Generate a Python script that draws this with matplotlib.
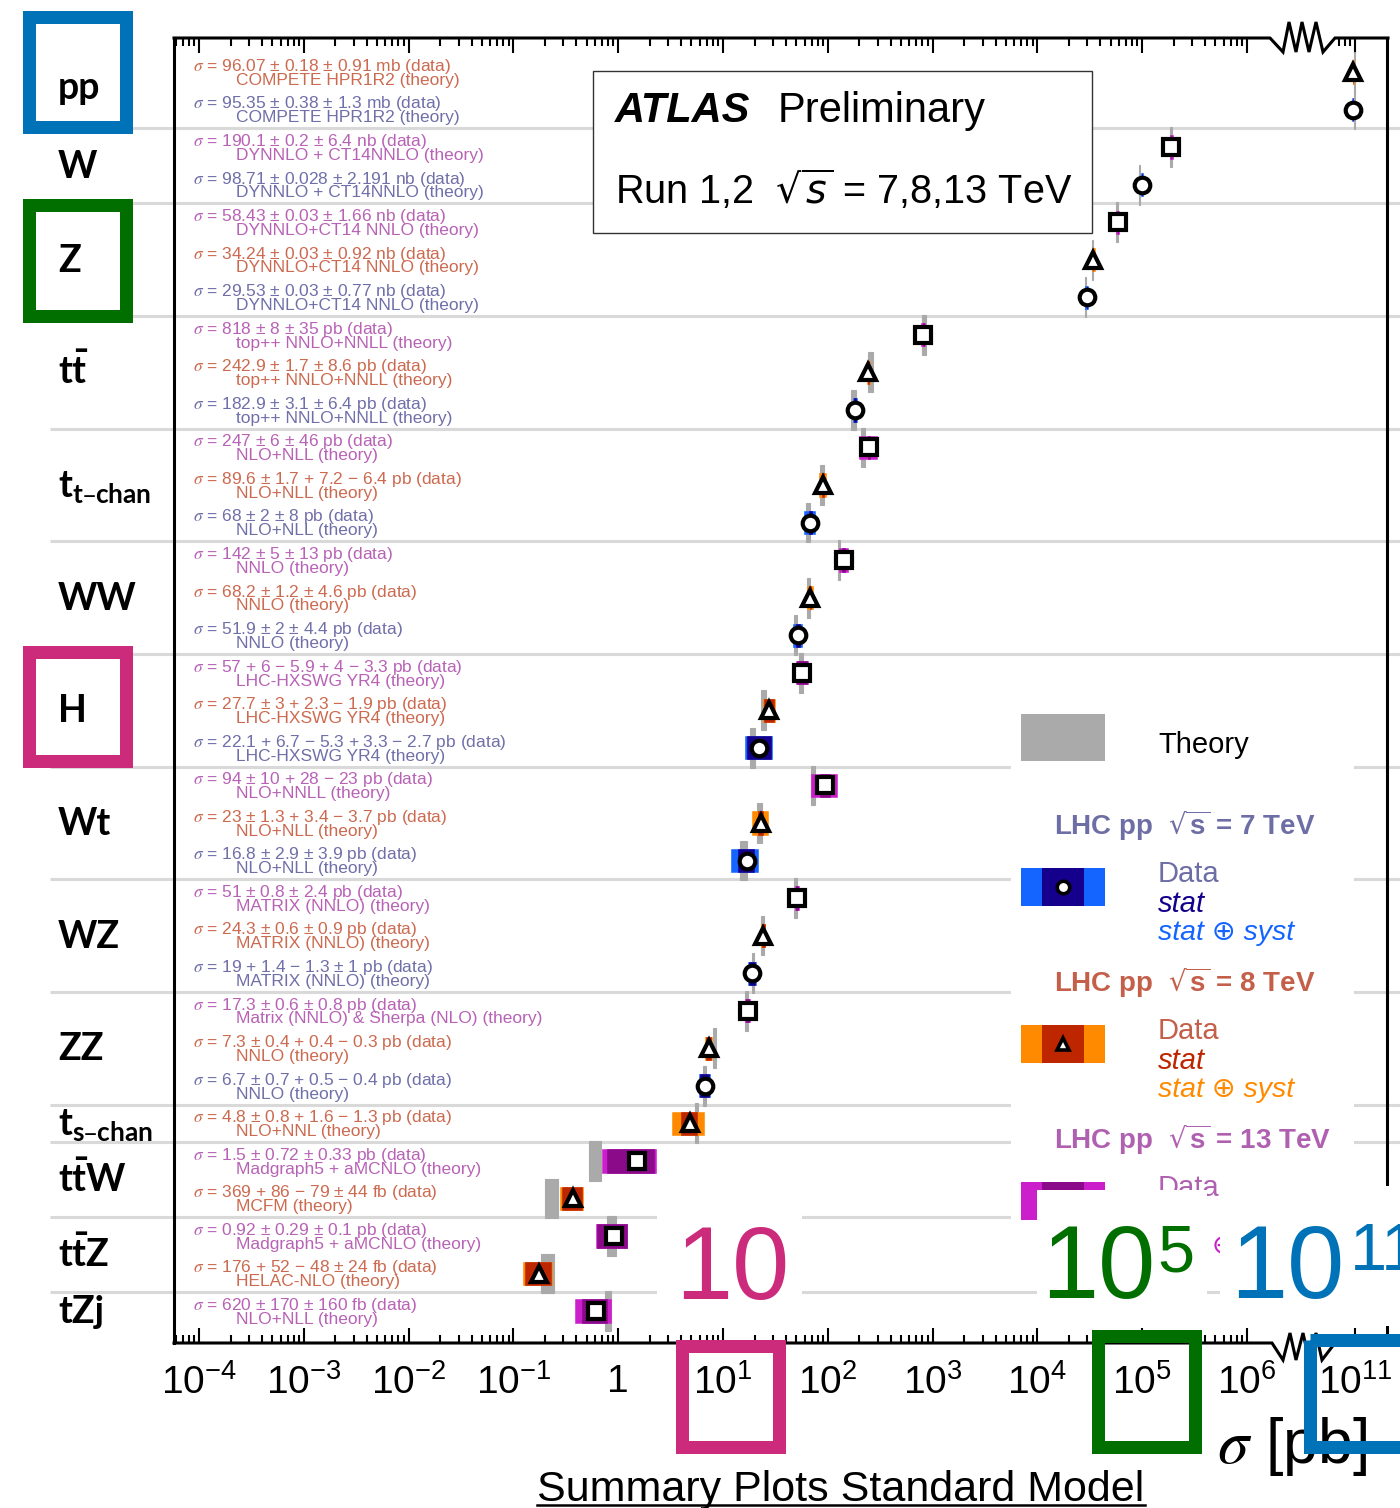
import numpy as np
import matplotlib
matplotlib.use("Agg")
import matplotlib.pyplot as plt
from matplotlib import font_manager, transforms
from matplotlib.patches import Rectangle
from matplotlib.lines import Line2D
from matplotlib.ticker import FixedLocator, FixedFormatter, NullFormatter


def first_font(names):
    for name in names:
        try:
            font_manager.findfont(font_manager.FontProperties(family=name),
                                  fallback_to_default=False)
            return name
        except Exception:
            continue
    return "DejaVu Sans"


SANS = first_font(["Liberation Sans", "Arial", "DejaVu Sans"])
NARROW = first_font(["Liberation Sans Narrow", "DejaVu Sans Condensed", SANS])
LABEL = first_font(["Lato", "Open Sans", "DejaVu Sans"])

# ------------------------------------------------------------------ data
groups = ["pp", "W", "Z", r"$\mathregular{t\bar{t}}$", "$\\mathregular{t_{t\u2013chan}}$",
          "WW", "H", "Wt", "WZ", "ZZ", "$\\mathregular{t_{s\u2013chan}}$",
          r"$\mathregular{t\bar{t}W}$", r"$\mathregular{t\bar{t}Z}$", "tZj"]
group_sizes = [2, 2, 3, 3, 3, 3, 3, 3, 3, 3, 1, 2, 2, 1]

energy = [8, 7, 13, 7, 13, 8, 7, 13, 8, 7, 13, 8, 7, 13, 8, 7, 13, 8, 7,
          13, 8, 7, 13, 8, 7, 13, 8, 7, 8, 13, 8, 13, 8, 13]
value = [96.07, 95.35, 190.1, 98.71, 58.43, 34.24, 29.53, 818, 242.9, 182.9,
         247, 89.6, 68, 142, 68.2, 51.9, 57, 27.7, 22.1, 94, 23, 16.8,
         51, 24.3, 19, 17.3, 7.3, 6.7, 4.8, 1.5, 369, 0.92, 176, 620]
unit = ["mb", "mb", "nb", "nb", "nb", "nb", "nb"] + ["pb"] * 23 + ["fb", "pb", "fb", "fb"]
stat_up = [0.18, 0.38, 0.2, 0.028, 0.03, 0.03, 0.03, 8, 1.7, 3.1, 6, 1.7, 2,
           5, 1.2, 2, 6, 3, 6.7, 10, 1.3, 2.9, 0.8, 0.6, 1.4, 0.6, 0.4, 0.7,
           0.8, 0.72, 86, 0.29, 52, 170]
stat_dn = [0.18, 0.38, 0.2, 0.028, 0.03, 0.03, 0.03, 8, 1.7, 3.1, 6, 1.7, 2,
           5, 1.2, 2, 5.9, 3, 5.3, 10, 1.3, 2.9, 0.8, 0.6, 1.3, 0.6, 0.4, 0.7,
           0.8, 0.72, 79, 0.29, 48, 170]
syst_up = [0.91, 1.3, 6.4, 2.191, 1.66, 0.92, 0.77, 35, 8.6, 6.4, 46, 7.2, 8,
           13, 4.6, 4.4, 4, 2.3, 3.3, 28, 3.4, 3.9, 2.4, 0.9, 1, 0.8, 0.4, 0.5,
           1.6, 0.33, 44, 0.1, 24, 160]
syst_dn = [0.91, 1.3, 6.4, 2.191, 1.66, 0.92, 0.77, 35, 8.6, 6.4, 46, 6.4, 8,
           13, 4.6, 4.4, 3.3, 1.9, 2.7, 23, 3.7, 3.9, 2.4, 0.9, 1, 0.8, 0.3, 0.4,
           1.3, 0.33, 44, 0.1, 24, 160]

theory_pb = [9.8e10, 9.8e10, 1.88e5, 9.45e4, 5.79e4, 3.36e4, 2.88e4, 832, 255, 177,
             217, 87.8, 64.6, 128, 65, 49.4, 55.6, 24.5, 19.2, 72, 22.4, 15.7,
             49.1, 24.0, 19.3, 16.9, 8.3, 6.7, 5.61, 0.60, 0.232, 0.86, 0.212, 0.80]
theory_rel = [0.01, 0.01, 0.015, 0.015, 0.02, 0.02, 0.02, 0.05, 0.05, 0.05,
              0.04, 0.04, 0.04, 0.03, 0.03, 0.03, 0.05, 0.05, 0.05, 0.05, 0.06, 0.07,
              0.03, 0.03, 0.03, 0.03, 0.03, 0.03, 0.04, 0.13, 0.14, 0.10, 0.14, 0.07]
theory_name = (["COMPETE HPR1R2"] * 2 + ["DYNNLO + CT14NNLO"] * 2 +
               ["DYNNLO+CT14 NNLO"] * 3 + ["top++ NNLO+NNLL"] * 3 +
               ["NLO+NLL"] * 3 + ["NNLO"] * 3 + ["LHC-HXSWG YR4"] * 3 +
               ["NLO+NNLL", "NLO+NLL", "NLO+NLL"] + ["MATRIX (NNLO)"] * 3 +
               ["Matrix (NNLO) & Sherpa (NLO)", "NNLO", "NNLO"] + ["NLO+NNL"] +
               ["Madgraph5 + aMCNLO", "MCFM", "Madgraph5 + aMCNLO", "HELAC-NLO", "NLO+NLL"])

major_ticks = [1e-4, 1e-3, 1e-2, 1e-1, 1, 1e1, 1e2, 1e3, 1e4, 1e5, 1e6, 1e11]
major_labels = [r"$\mathregular{10^{-4}}$", r"$\mathregular{10^{-3}}$", r"$\mathregular{10^{-2}}$",
                r"$\mathregular{10^{-1}}$", "1", r"$\mathregular{10^{1}}$", r"$\mathregular{10^{2}}$",
                r"$\mathregular{10^{3}}$", r"$\mathregular{10^{4}}$", r"$\mathregular{10^{5}}$",
                r"$\mathregular{10^{6}}$", r"$\mathregular{10^{11}}$"]

# ------------------------------------------------------------------ styles
text_col = {7: "#6F6FA9", 8: "#CC6A50", 13: "#B862B6"}
title_col = {7: "#6E6EA6", 8: "#C4604A", 13: "#B060B0"}
outer_col = {7: "#1464FF", 8: "#FF8A00", 13: "#CC1FCC"}
inner_col = {7: "#14008C", 8: "#BE2600", 13: "#8A0A8A"}
marker_of = {7: "o", 8: "^", 13: "s"}
THEORY_GRAY = "#AAAAAA"
SEP_GRAY = "#D9D9D9"
BLUE, GREEN, MAGENTA = "#0072B8", "#006F00", "#CC2A7A"

scale = {"mb": 1e9, "nb": 1e3, "pb": 1.0, "fb": 1e-3}
fac = np.array([scale[u] for u in unit])
val = np.array(value) * fac
su, sd = np.array(stat_up) * fac, np.array(stat_dn) * fac
yu, yd = np.array(syst_up) * fac, np.array(syst_dn) * fac
tot_up, tot_dn = np.hypot(su, yu), np.hypot(sd, yd)
th = np.array(theory_pb)
th_rel = np.array(theory_rel)
en = np.array(energy)
rows = np.arange(len(val))

# broken logarithmic axis: the decades between ~4e6 and ~4e10 are squeezed out
L1, L2, GAP = 6.6, 10.6, 3.9695
U2 = L2 - GAP


def fwd(x):
    lg = np.log10(np.clip(np.asarray(x, float), 1e-300, None))
    mid = L1 + (lg - L1) * (U2 - L1) / (L2 - L1)
    return np.where(lg <= L1, lg, np.where(lg >= L2, lg - GAP, mid))


def inv(u):
    u = np.asarray(u, float)
    mid = L1 + (u - L1) * (L2 - L1) / (U2 - L1)
    return 10.0 ** np.where(u <= L1, u, np.where(u >= U2, u + GAP, mid))


W, H = 1400, 1508
fig = plt.figure(figsize=(W / 100, H / 100), dpi=100)
fig.patch.set_facecolor("white")
ax = fig.add_axes([174 / W, 1 - 1343 / H, (1387 - 174) / W, (1343 - 38) / H])
ax.set_xscale("function", functions=(fwd, inv))
ax.set_xlim(inv(-4.2385), inv(7.336))
ax.set_ylim(len(val) - 1 + 0.85, -0.905)

# pixel coordinates measured from the top-left corner of the figure
px = transforms.Affine2D().scale(1 / W, -1 / H).translate(0, 1) + fig.transFigure
row_tx = transforms.blended_transform_factory(px, ax.transData)

# ticks
minor = [k * 10.0 ** d for d in range(-5, 6) for k in range(2, 10)]
minor = [m for m in minor if 5.8e-5 < m < 1e6] + [7e10, 8e10, 9e10]
ax.xaxis.set_major_locator(FixedLocator(major_ticks))
ax.xaxis.set_major_formatter(FixedFormatter(major_labels))
ax.xaxis.set_minor_locator(FixedLocator(minor))
ax.xaxis.set_minor_formatter(NullFormatter())
ax.set_yticks([])
ax.tick_params(axis="x", which="both", direction="in", top=True, bottom=True,
               width=1.5, colors="black")
ax.tick_params(axis="x", which="major", length=11, pad=15, labelsize=28)
ax.tick_params(axis="x", which="minor", length=5.5)
for lab in ax.get_xticklabels():
    lab.set_fontfamily(NARROW)
for s in ("top", "bottom"):
    ax.spines[s].set_visible(False)
for s in ("left", "right"):
    ax.spines[s].set_linewidth(2.2)

# top / bottom axis lines with the break symbol
top_line = [(174, 38), (1270, 38), (1283, 52), (1289, 22), (1296, 52), (1302, 22),
            (1309, 52), (1316, 22), (1323, 52), (1335, 38), (1388, 38)]
bot_line = [(174, 1343), (1272, 1343), (1283, 1360), (1290, 1333), (1296, 1360),
            (1303, 1333), (1309, 1360), (1316, 1333), (1322, 1360), (1335, 1343), (1388, 1343)]
for pts in (top_line, bot_line):
    xs, ys = zip(*pts)
    ax.add_line(Line2D(xs, ys, transform=px, color="black", lw=2.2, clip_on=False,
                       solid_joinstyle="miter", zorder=3))

# group separators
ends = np.cumsum(group_sizes)
starts = ends - np.array(group_sizes)
for e in ends[:-1]:
    ax.plot([50, 1400], [e - 0.5, e - 0.5], transform=row_tx, color=SEP_GRAY,
            lw=2.2, zorder=1, clip_on=False, solid_capstyle="butt")

# theory bands
ax.barh(rows, th * (1 + th_rel) - th * (1 - th_rel), left=th * (1 - th_rel), height=1.06,
        color=THEORY_GRAY, edgecolor=THEORY_GRAY, lw=0.8, zorder=2)
# data bands: stat+syst (outer) and stat (inner)
ax.barh(rows, tot_up + tot_dn, left=val - tot_dn, height=0.62,
        color=[outer_col[e] for e in en], edgecolor=[outer_col[e] for e in en],
        lw=0.4, zorder=3)
ax.barh(rows, su + sd, left=val - sd, height=0.62,
        color=[inner_col[e] for e in en], edgecolor=[inner_col[e] for e in en],
        lw=0.4, zorder=3.1)
for e in (7, 8, 13):
    m = en == e
    ax.plot(val[m], rows[m], marker_of[e], ls="none", ms=11.2, mew=3.0,
            mfc="white", mec="black", zorder=4, clip_on=False)


# measurement / prediction texts
def pm(up, dn):
    return f"\u00b1 {up:g}" if up == dn else f"+ {up:g} \u2212 {dn:g}"


for i in rows:
    txt = f"{value[i]:g} {pm(stat_up[i], stat_dn[i])} {pm(syst_up[i], syst_dn[i])} {unit[i]} (data)"
    c = text_col[energy[i]]
    ax.text(193, i - 0.03, r"$\sigma$ = " + txt, transform=row_tx, fontsize=12.5,
            family=SANS, math_fontfamily="stix", color=c, va="baseline", zorder=4,
            clip_on=False)
    ax.text(236, i + 0.34, theory_name[i] + " (theory)", transform=row_tx, fontsize=12.5,
            family=SANS, color=c, va="baseline", zorder=4, clip_on=False)

# highlighted group frames on the left
for (x0, y0, x1, y1, col) in [(22, 10, 132, 133, BLUE), (22, 198, 132, 322, GREEN),
                              (22, 645, 132, 767, MAGENTA)]:
    lw = 13
    ax.add_patch(Rectangle((x0 + lw / 2, y0 + lw / 2), x1 - x0 - lw, y1 - y0 - lw,
                           transform=px, facecolor="white", edgecolor=col,
                           lw=lw * 0.72, joinstyle="miter", zorder=6, clip_on=False))

# group labels
for g, s, n in zip(groups, starts, group_sizes):
    centre = s + (n - 1) / 2
    dy = 8 if g == "pp" else 12
    off = transforms.offset_copy(row_tx, fig=fig, x=0, y=-dy * 0.72, units="points")
    ax.text(58, centre, g, transform=off, fontsize=27, family=LABEL, weight="bold",
            color="black", va="baseline", ha="left", zorder=7, clip_on=False)

# ATLAS box
ax.add_patch(Rectangle((593, 71), 499, 162, transform=px, facecolor="white",
                       edgecolor="#333333", lw=1.0, zorder=6, clip_on=False))
ax.text(615, 122, "ATLAS", transform=px, fontsize=30, family=SANS, weight="bold",
        style="italic", zorder=7, clip_on=False)
ax.text(778, 122, "Preliminary", transform=px, fontsize=30, family=SANS, zorder=7,
        clip_on=False)
ax.text(615, 204, r"Run 1,2  $\sqrt{s}$ = 7,8,13 TeV", transform=px, fontsize=28.5,
        family=SANS, math_fontfamily="dejavusans", zorder=7, clip_on=False)

# legend
ax.add_patch(Rectangle((1011, 700), 343, 562, transform=px, facecolor="white",
                       edgecolor="none", zorder=5, clip_on=False))
ax.add_patch(Rectangle((1021, 714), 84, 47, transform=px, facecolor=THEORY_GRAY,
                       edgecolor="none", zorder=5.5, clip_on=False))
ax.text(1158, 753, "Theory", transform=px, fontsize=21, family=SANS, zorder=5.5,
        clip_on=False)
for k, e in enumerate((7, 8, 13)):
    y0 = 157 * k
    ax.text(1054, 835 + y0, r"LHC pp  $\sqrt{\mathregular{s}}$ = %d TeV" % e, transform=px,
            fontsize=20, family=SANS, weight="bold", math_fontfamily="dejavusans",
            color=title_col[e], zorder=5.5, clip_on=False)
    ax.add_patch(Rectangle((1021, 868 + y0), 84, 38, transform=px, facecolor=outer_col[e],
                           edgecolor="none", zorder=5.5, clip_on=False))
    ax.add_patch(Rectangle((1042, 868 + y0), 42, 38, transform=px, facecolor=inner_col[e],
                           edgecolor="none", zorder=5.6, clip_on=False))
    ax.plot([1063], [887 + y0], marker_of[e], transform=px, ms=9, mew=2.6, mfc="white",
            mec="black", zorder=5.7, clip_on=False)
    ax.text(1158, 882 + y0, "Data", transform=px, fontsize=21, family=SANS,
            color=title_col[e], zorder=5.5, clip_on=False)
    ax.text(1158, 912 + y0, "stat", transform=px, fontsize=21, family=[SANS, "DejaVu Sans"],
            style="italic", color=inner_col[e], zorder=5.5, clip_on=False)
    ax.text(1158, 940 + y0, "stat \u2295 syst", transform=px, fontsize=20.5,
            family=[SANS, "DejaVu Sans"], style="italic", color=outer_col[e],
            zorder=5.5, clip_on=False)

# magnitude call-outs at the bottom
for (x0, y0, x1, y1) in [(657, 1190, 802, 1326), (1037, 1190, 1207, 1326),
                         (1220, 1186, 1400, 1326)]:
    ax.add_patch(Rectangle((x0, y0), x1 - x0, y1 - y0, transform=px, facecolor="white",
                           edgecolor="none", zorder=8, clip_on=False))
big = dict(transform=px, family=NARROW, va="baseline", zorder=9, clip_on=False)
ax.text(789, 1299, "10", fontsize=74, color=MAGENTA, ha="right", **big)
ax.text(1155, 1298, "10", fontsize=74, color=GREEN, ha="right", **big)
ax.text(1157, 1272, "5", fontsize=48, color=GREEN, ha="left", **big)
ax.text(1344, 1298, "10", fontsize=74, color=BLUE, ha="right", **big)
ax.text(1350, 1270, "11", fontsize=48, color=BLUE, ha="left", **big)
for (x0, y0, x1, y1, col) in [(675, 1339, 785, 1453, MAGENTA), (1091, 1329, 1201, 1453, GREEN),
                              (1303, 1333, 1430, 1453, BLUE)]:
    lw = 13
    ax.add_patch(Rectangle((x0 + lw / 2, y0 + lw / 2), x1 - x0 - lw, y1 - y0 - lw,
                           transform=px, facecolor="none", edgecolor=col,
                           lw=lw * 0.72, joinstyle="miter", zorder=9, clip_on=False))

# axis title and footer
ax.text(1217, 1463, r"$\sigma$ [pb]", transform=px, fontsize=45, family=NARROW,
        math_fontfamily="stix", va="baseline", zorder=7, clip_on=False)
footer = ax.text(537, 1501, "Summary Plots Standard Model", transform=px, fontsize=32,
                 family=NARROW, va="baseline", zorder=7, clip_on=False)
fig.canvas.draw()
bb = footer.get_window_extent(fig.canvas.get_renderer())
footer.set_fontsize(32 * 608 / bb.width)
ax.add_line(Line2D([537, 1145], [1505, 1505], transform=px, color="black", lw=1.8,
                   clip_on=False, zorder=7))

fig.savefig("out.png", dpi=100, facecolor="white")
